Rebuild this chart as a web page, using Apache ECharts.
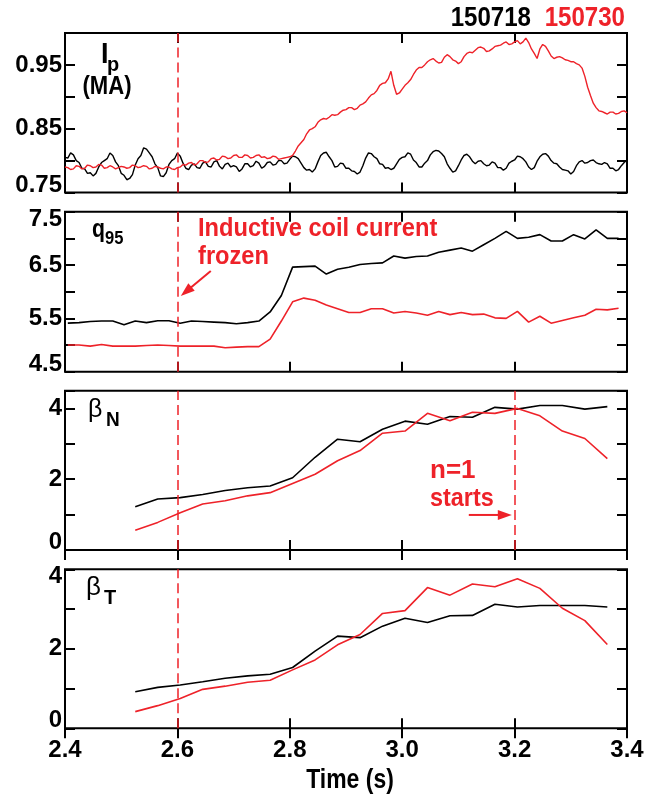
<!DOCTYPE html>
<html>
<head>
<meta charset="utf-8">
<script src="https://cdn.jsdelivr.net/npm/echarts@6/dist/echarts.min.js"></script>
<style>
  html, body { margin: 0; padding: 0; background: #fff; }
  #chart { width: 660px; height: 803px; }
</style>
</head>
<body>
<div id="chart"></div>
<script>
// Shot numbers
const shotA = '150718';
const shotB = '150730';

// Plasma current Ip (MA): samples on the 10 ms grid ...
const tIp = [2.40,2.41,2.42,2.43,2.44,2.45,2.46,2.47,2.48,2.49,
  2.50,2.51,2.52,2.53,2.54,2.55,2.56,2.57,2.58,2.59,
  2.60,2.61,2.62,2.63,2.64,2.65,2.66,2.67,2.68,2.69,
  2.70,2.71,2.72,2.73,2.74,2.75,2.76,2.77,2.78,2.79,
  2.80,2.81,2.82,2.83,2.84,2.85,2.86,2.87,2.88,2.89,
  2.90,2.91,2.92,2.93,2.94,2.95,2.96,2.97,2.98,2.99,
  3.00,3.01,3.02,3.03,3.04,3.05,3.06,3.07,3.08,3.09,
  3.10,3.11,3.12,3.13,3.14,3.15,3.16,3.17,3.18,3.19,
  3.20,3.21,3.22,3.23,3.24,3.25,3.26,3.27,3.28,3.29,
  3.30,3.31,3.32,3.33,3.34,3.35,3.36,3.37,3.38,3.39,3.40];
const ipA = [0.805,0.812,0.800,0.788,0.780,0.776,0.790,0.800,0.812,0.798,
  0.780,0.770,0.778,0.803,0.820,0.812,0.795,0.776,0.781,0.800,
  0.812,0.796,0.786,0.795,0.788,0.798,0.790,0.800,0.787,0.796,
  0.792,0.783,0.795,0.790,0.799,0.788,0.797,0.793,0.800,0.795,
  0.802,0.806,0.796,0.785,0.782,0.798,0.812,0.806,0.790,0.796,
  0.788,0.784,0.779,0.792,0.812,0.806,0.795,0.788,0.786,0.795,
  0.805,0.812,0.801,0.790,0.796,0.809,0.816,0.811,0.795,0.782,
  0.792,0.808,0.806,0.795,0.800,0.792,0.798,0.789,0.785,0.796,
  0.801,0.806,0.798,0.786,0.799,0.810,0.807,0.796,0.790,0.785,
  0.779,0.792,0.800,0.797,0.801,0.795,0.797,0.788,0.784,0.792,0.801];
const ipB = [0.790,0.786,0.792,0.787,0.793,0.789,0.794,0.788,0.792,0.787,
  0.791,0.788,0.793,0.789,0.792,0.787,0.791,0.788,0.790,0.787,
  0.789,0.794,0.796,0.793,0.800,0.797,0.803,0.801,0.807,0.803,
  0.808,0.805,0.809,0.804,0.808,0.805,0.803,0.807,0.802,0.804,
  0.806,0.815,0.828,0.842,0.850,0.860,0.866,0.868,0.871,0.876,
  0.880,0.883,0.882,0.889,0.898,0.905,0.918,0.922,0.940,0.904,
  0.912,0.922,0.935,0.946,0.950,0.958,0.956,0.954,0.966,0.958,
  0.952,0.963,0.970,0.973,0.978,0.971,0.975,0.980,0.984,0.982,
  0.986,0.983,0.992,0.975,0.960,0.982,0.972,0.960,0.963,0.958,
  0.955,0.952,0.945,0.915,0.890,0.878,0.875,0.876,0.873,0.877,0.875];

// ... and the samples taken halfway between them
const tIpMid = [2.405,2.415,2.425,2.435,2.445,2.455,2.465,2.475,2.485,2.495,
  2.505,2.515,2.525,2.535,2.545,2.555,2.565,2.575,2.585,2.595,
  2.605,2.615,2.625,2.635,2.645,2.655,2.665,2.675,2.685,2.695,
  2.705,2.715,2.725,2.735,2.745,2.755,2.765,2.775,2.785,2.795,
  2.805,2.815,2.825,2.835,2.845,2.855,2.865,2.875,2.885,2.895,
  2.905,2.915,2.925,2.935,2.945,2.955,2.965,2.975,2.985,2.995,
  3.005,3.015,3.025,3.035,3.045,3.055,3.065,3.075,3.085,3.095,
  3.105,3.115,3.125,3.135,3.145,3.155,3.165,3.175,3.185,3.195,
  3.205,3.215,3.225,3.235,3.245,3.255,3.265,3.275,3.285,3.295,
  3.305,3.315,3.325,3.335,3.345,3.355,3.365,3.375,3.385,3.395];
const ipAMid = [0.804,0.809,0.797,0.787,0.781,0.780,0.797,0.803,0.808,0.792,
  0.777,0.772,0.793,0.808,0.818,0.806,0.789,0.775,0.794,0.803,
  0.807,0.788,0.793,0.789,0.796,0.791,0.798,0.791,0.794,0.790,
  0.790,0.787,0.795,0.792,0.796,0.791,0.798,0.794,0.800,0.796,
  0.807,0.803,0.789,0.786,0.787,0.808,0.813,0.800,0.791,0.795,
  0.788,0.783,0.782,0.804,0.811,0.803,0.794,0.789,0.788,0.802,
  0.806,0.810,0.797,0.790,0.800,0.814,0.815,0.806,0.788,0.784,
  0.801,0.810,0.799,0.799,0.795,0.793,0.796,0.789,0.788,0.799,
  0.807,0.803,0.790,0.789,0.806,0.811,0.800,0.795,0.786,0.784,
  0.783,0.798,0.796,0.800,0.797,0.794,0.795,0.788,0.786,0.797];
const ipBMid = [0.789,0.787,0.791,0.788,0.792,0.790,0.793,0.789,0.790,0.789,
  0.790,0.789,0.792,0.790,0.791,0.788,0.790,0.787,0.790,0.786,
  0.790,0.793,0.797,0.795,0.800,0.798,0.804,0.802,0.806,0.804,
  0.809,0.805,0.808,0.805,0.809,0.806,0.804,0.806,0.803,0.805,
  0.808,0.823,0.833,0.848,0.853,0.864,0.865,0.872,0.872,0.879,
  0.883,0.880,0.887,0.892,0.903,0.910,0.921,0.928,0.918,0.906,
  0.918,0.927,0.942,0.946,0.955,0.960,0.953,0.962,0.963,0.956,
  0.955,0.968,0.969,0.977,0.976,0.972,0.979,0.981,0.986,0.983,
  0.988,0.986,0.985,0.968,0.975,0.979,0.964,0.962,0.961,0.957,
  0.955,0.950,0.932,0.902,0.883,0.877,0.873,0.876,0.874,0.878];

// Edge safety factor q95, sampled every 20 ms
const tQ = [2.405,2.425,2.445,2.465,2.485,2.505,2.525,2.545,2.565,2.585,
  2.605,2.625,2.645,2.665,2.685,2.705,2.725,2.745,2.765,2.785,
  2.805,2.825,2.845,2.865,2.885,2.905,2.925,2.945,2.965,2.985,
  3.005,3.025,3.045,3.065,3.085,3.105,3.125,3.145,3.165,3.185,
  3.205,3.225,3.245,3.265,3.285,3.305,3.325,3.345,3.365,3.385];
const q95A = [5.41,5.42,5.44,5.45,5.45,5.38,5.45,5.42,5.455,5.455,
  5.41,5.45,5.44,5.43,5.42,5.40,5.42,5.45,5.62,5.93,
  6.46,6.47,6.48,6.33,6.42,6.46,6.51,6.53,6.54,6.67,
  6.63,6.66,6.67,6.74,6.78,6.82,6.76,6.88,7.00,7.13,
  7.00,7.02,7.07,6.95,6.95,7.07,6.99,7.16,7.00,7.00];
const q95B = [5.00,5.00,4.98,5.01,4.98,4.98,4.98,4.99,5.00,4.99,
  4.98,4.98,4.98,4.98,4.95,4.96,4.97,4.97,5.11,5.45,
  5.81,5.88,5.84,5.75,5.68,5.61,5.61,5.68,5.68,5.60,
  5.63,5.60,5.56,5.63,5.57,5.61,5.57,5.58,5.51,5.50,
  5.63,5.43,5.54,5.41,5.46,5.51,5.56,5.67,5.66,5.69];

// Normalized and toroidal beta, sampled every 40 ms
const tBeta = [2.525,2.565,2.605,2.645,2.685,2.725,2.765,2.805,2.845,2.885,2.925,
  2.965,3.005,3.045,3.085,3.125,3.165,3.205,3.245,3.285,3.325,3.365];
const betaNA = [1.22,1.44,1.48,1.57,1.68,1.76,1.81,2.04,2.62,3.13,3.06,
  3.41,3.64,3.55,3.77,3.75,4.03,3.98,4.08,4.08,3.98,4.05];
const betaNB = [0.56,0.78,1.05,1.30,1.39,1.53,1.62,1.88,2.14,2.52,2.81,
  3.30,3.36,3.86,3.65,3.89,3.86,4.00,3.79,3.36,3.15,2.58];
const betaTA = [0.92,1.03,1.09,1.17,1.26,1.32,1.36,1.53,1.94,2.32,2.28,
  2.57,2.77,2.66,2.83,2.84,3.12,3.05,3.09,3.09,3.09,3.05];
const betaTB = [0.42,0.57,0.75,0.98,1.06,1.16,1.21,1.47,1.72,2.10,2.36,
  2.89,2.96,3.54,3.35,3.63,3.56,3.76,3.52,3.02,2.71,2.11];

// Event times (s)
const coilFrozenTime = 2.6;
const n1StartTime = 3.2;

// Tick labels printed on each panel's left axis
const ipTickLabels = ['0.75', '0.85', '0.95'];
const q95TickLabels = ['4.5', '5.5', '6.5', '7.5'];
const betaNTickLabels = ['0', '2', '4'];
const betaTTickLabels = ['0', '2', '4'];

const BLACK = '#000000';
const RED = '#ee2229';
const FONT = '"Liberation Sans", Arial, sans-serif';

const pair = (ts, vs) => ts.map((t, i) => [t, vs[i]]);
const interleave = (a, b) => a.concat(b).sort((p, q) => p[0] - q[0]);

const panels = [
  { top: 33,    height: 159.5, min: 0.75, max: 1.0, interval: 0.05, digits: 2, labels: ipTickLabels,
    series: [interleave(pair(tIp, ipA), pair(tIpMid, ipAMid)),
             interleave(pair(tIp, ipB), pair(tIpMid, ipBMid))],
    width: 1.4, marks: [coilFrozenTime] },
  { top: 211.7, height: 160,   min: 4.5,  max: 7.5, interval: 0.5,  digits: 1, labels: q95TickLabels,
    series: [pair(tQ, q95A), pair(tQ, q95B)], width: 1.6, marks: [coilFrozenTime] },
  { top: 390.7, height: 159.3, min: 0,    max: 4.5, interval: 1,    digits: 0, labels: betaNTickLabels,
    series: [pair(tBeta, betaNA), pair(tBeta, betaNB)], width: 1.6, marks: [coilFrozenTime, n1StartTime] },
  { top: 569.3, height: 159,   min: 0,    max: 4,   interval: 1,    digits: 0, labels: betaTTickLabels,
    series: [pair(tBeta, betaTA), pair(tBeta, betaTB)], width: 1.6, marks: [coilFrozenTime] }
];

const tickStyle = { inside: true, length: 10, lineStyle: { color: BLACK, width: 2 } };
const labelFont = { color: BLACK, fontWeight: 'bold', fontSize: 24, fontFamily: FONT };

const grid = [], xAxis = [], yAxis = [], series = [];
panels.forEach((p, i) => {
  grid.push({ left: 65, width: 562, top: p.top, height: p.height, show: true,
    borderColor: BLACK, borderWidth: 2, backgroundColor: 'transparent' });
  const last = i === panels.length - 1;
  xAxis.push({ gridIndex: i, type: 'value', position: 'bottom', min: 2.4, max: 3.4, interval: 0.2,
    axisLine: { show: false }, axisTick: tickStyle, splitLine: { show: false },
    axisLabel: Object.assign({ show: last, margin: 10, formatter: v => v.toFixed(1) }, labelFont) });
  xAxis.push({ gridIndex: i, type: 'value', position: 'top', min: 2.4, max: 3.4, interval: 0.2,
    axisLine: { show: false }, axisTick: tickStyle, splitLine: { show: false }, axisLabel: { show: false } });
  yAxis.push({ gridIndex: i, type: 'value', position: 'left', min: p.min, max: p.max, interval: p.interval,
    axisLine: { show: false }, axisTick: tickStyle, splitLine: { show: false },
    axisLabel: Object.assign({ margin: 3, lineHeight: 15,
      verticalAlignMinLabel: 'bottom', verticalAlignMaxLabel: 'top',
      formatter: v => {
        const s = v.toFixed(p.digits);
        return p.labels.includes(s) ? s : '';
      } }, labelFont) });
  yAxis.push({ gridIndex: i, type: 'value', position: 'right', min: p.min, max: p.max, interval: p.interval,
    axisLine: { show: false }, axisTick: tickStyle, splitLine: { show: false }, axisLabel: { show: false } });
  [BLACK, RED].forEach((color, k) => {
    const s = { type: 'line', xAxisIndex: 2 * i, yAxisIndex: 2 * i, data: p.series[k],
      showSymbol: false, symbol: 'none', lineStyle: { color, width: p.width }, itemStyle: { color },
      animation: false, z: 3 + k };
    if (k === 1) {
      s.markLine = { silent: true, symbol: ['none', 'none'], label: { show: false },
        lineStyle: { color: RED, type: [10, 5], width: 1.5 },
        data: p.marks.map(t => ({ xAxis: t })) };
    }
    series.push(s);
  });
});

const chart = echarts.init(document.getElementById('chart'), null, { renderer: 'canvas' });
chart.setOption({ animation: false, grid, xAxis, yAxis, series });

// Condensed bold text: the element is squeezed horizontally around its anchor point
function txt(text, x, y, size, color, sx, align, weight) {
  return { type: 'text', z: 10, x, y, scaleX: sx || 1,
    style: { text, x: 0, y: 0, fill: color,
      font: `${weight || 'bold'} ${size}px ${FONT}`,
      textAlign: align || 'left', textVerticalAlign: 'middle' } };
}
function arrow(tail, tip, color) {
  const dx = tip[0] - tail[0], dy = tip[1] - tail[1];
  const len = Math.hypot(dx, dy), ux = dx / len, uy = dy / len;
  const hl = 14, hw = 5;
  const bx = tip[0] - ux * hl, by = tip[1] - uy * hl;
  return [
    { type: 'line', z: 10, shape: { x1: tail[0], y1: tail[1], x2: bx + ux * 2, y2: by + uy * 2 },
      style: { stroke: color, lineWidth: 2 } },
    { type: 'polygon', z: 10, shape: { points: [tip, [bx - uy * hw, by + ux * hw], [bx + uy * hw, by - ux * hw]] },
      style: { fill: color } }
  ];
}

const tip1 = chart.convertToPixel({ gridIndex: 1 }, [2.606, 5.92]);
const tip2 = chart.convertToPixel({ gridIndex: 2 }, [3.195, 0.99]);

const elements = [
  txt(shotA, 531, 18, 28, BLACK, 0.86, 'right'),
  txt(shotB, 625, 18, 28, RED, 0.86, 'right'),
  txt('I', 101, 55, 30, BLACK, 0.9),
  txt('p', 107, 65, 21, BLACK, 0.95),
  txt('(MA)', 107, 87, 26, BLACK, 0.85, 'center'),
  txt('q', 92, 230, 25, BLACK, 0.85),
  txt('95', 105, 239, 18, BLACK, 0.92),
  txt('β', 88, 410, 25, BLACK, 1, 'left', 'normal'),
  txt('N', 106, 420, 20, BLACK, 0.95),
  txt('β', 86, 588, 26, BLACK, 1, 'left', 'normal'),
  txt('T', 104, 598, 21, BLACK, 0.95),
  txt('Inductive coil current', 198, 229, 26, RED, 0.91),
  txt('frozen', 198, 257, 26, RED, 0.91),
  txt('n=1', 430, 471, 26, RED, 1),
  txt('starts', 430, 499, 26, RED, 0.9),
  txt('Time (s)', 350, 781, 27, BLACK, 0.85, 'center')
].concat(arrow([tip1[0] + 30, tip1[1] - 25], tip1, RED))
 .concat(arrow([tip2[0] - 43, tip2[1]], tip2, RED));

chart.setOption({ graphic: { elements } });
</script>
</body>
</html>
